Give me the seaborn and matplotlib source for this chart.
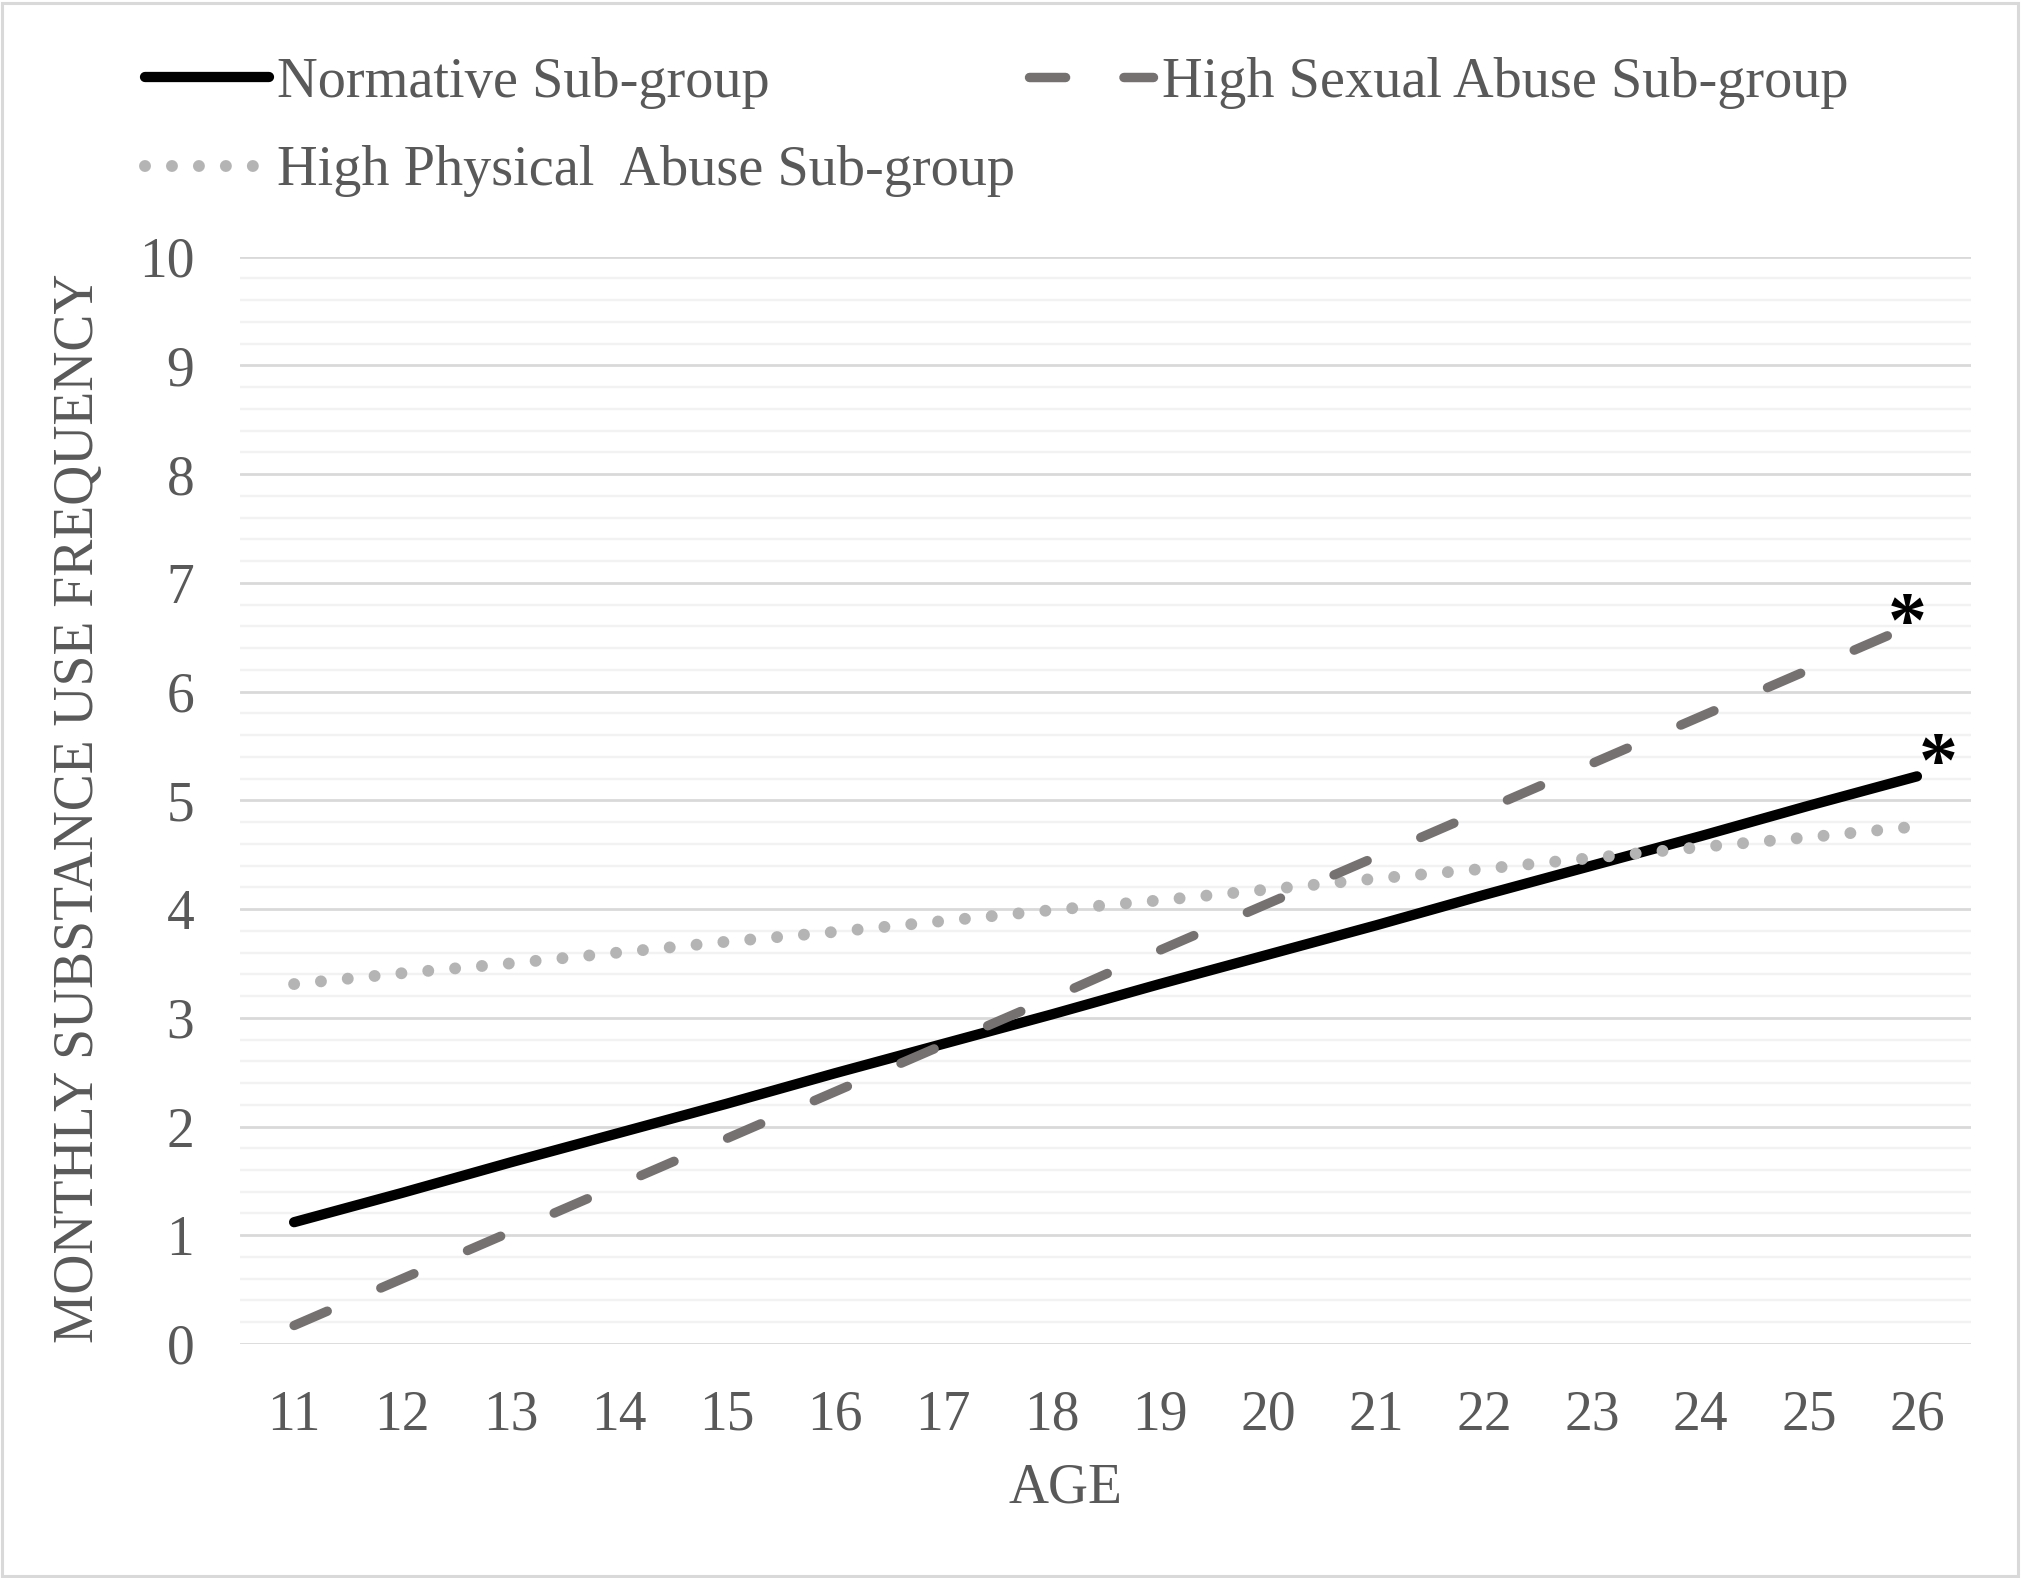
"""
Monthly substance use frequency by age for three sub-groups.
Recreates the grey-scale Excel-style line chart and saves out.png.
"""

import matplotlib.pyplot as plt
import pandas as pd
import seaborn as sns
from matplotlib.patches import Rectangle
from matplotlib.ticker import MultipleLocator

AGES = list(range(11, 27))
NORMATIVE = [1.12, 1.39, 1.67, 1.94, 2.21, 2.49, 2.76, 3.03,
             3.31, 3.58, 3.85, 4.13, 4.40, 4.67, 4.95, 5.22]
SEXUAL = [0.17, 0.60, 1.03, 1.46, 1.89, 2.32, 2.75, 3.18,
          3.62, 4.05, 4.48, 4.91, 5.34, 5.77, 6.20, 6.63]
PHYSICAL = [3.31, 3.41, 3.50, 3.60, 3.70, 3.79, 3.89, 3.99,
            4.08, 4.18, 4.28, 4.37, 4.47, 4.57, 4.66, 4.76]

LABEL_NORM = "Normative Sub-group"
LABEL_SEX = "High Sexual Abuse Sub-group"
LABEL_PHYS = "High Physical  Abuse Sub-group"

TEXT_COLOR = "#595959"
FS = 40

sns.set_theme(style="white")
plt.rcParams["font.family"] = ["Liberation Serif", "DejaVu Serif"]
plt.rcParams["lines.scale_dashes"] = False

df = pd.DataFrame({"age": AGES, "norm": NORMATIVE, "sex": SEXUAL, "phys": PHYSICAL})

fig = plt.figure(figsize=(20.22, 15.78), dpi=100)
ax = fig.add_axes([0.1187, 0.1483, 0.9748 - 0.1187, 0.8374 - 0.1483])

sns.lineplot(data=df, x="age", y="norm", ax=ax, color="black", lw=7.4,
             solid_capstyle="round", label=LABEL_NORM)
sns.lineplot(data=df, x="age", y="phys", ax=ax, color="#B4B4B4", lw=8.6,
             dashes=(0.01, 19.4), dash_capstyle="round", label=LABEL_PHYS)
sns.lineplot(data=df, x="age", y="sex", ax=ax, color="#767171", lw=6.8,
             dashes=(26, 42), dash_capstyle="round", label=LABEL_SEX)

# significance markers at the right-hand end of two lines
ax.annotate("*", (AGES[-1], SEXUAL[-1]), xytext=(-7, -16),
            textcoords="offset points", fontsize=56, fontweight="bold",
            color="black", ha="center", va="baseline")
ax.annotate("*", (AGES[-1], NORMATIVE[-1]), xytext=(15, -6),
            textcoords="offset points", fontsize=56, fontweight="bold",
            color="black", ha="center", va="baseline")

ax.set_xlim(10.5, 26.5)
ax.set_ylim(0, 10)
ax.set_xticks(AGES)
ax.yaxis.set_major_locator(MultipleLocator(1))
ax.yaxis.set_minor_locator(MultipleLocator(0.2))
ax.grid(axis="y", which="major", color="#D9D9D9", lw=2.0, zorder=0)
ax.grid(axis="y", which="minor", color="#F2F2F2", lw=1.7, zorder=0)
ax.grid(axis="x", visible=False)
ax.set_axisbelow(True)
for spine in ax.spines.values():
    spine.set_visible(False)
ax.tick_params(axis="both", which="both", length=0, labelsize=FS,
               labelcolor=TEXT_COLOR, pad=33)

ax.set_xlabel("AGE", fontsize=FS, color=TEXT_COLOR)
ax.set_ylabel("MONTHLY SUBSTANCE USE FREQUENCY", fontsize=FS, color=TEXT_COLOR)
ax.xaxis.label.set_va("center")
ax.yaxis.label.set_va("center")
ax.xaxis.set_label_coords(0.477, -0.133)
ax.yaxis.set_label_coords(-0.093, 0.493)

handles, labels = ax.get_legend_handles_labels()
ax.get_legend().remove()
fig.legend(handles, labels, loc="upper left", bbox_to_anchor=(0.0715, 0.964),
           ncol=2, frameon=False, fontsize=40.6, labelcolor=TEXT_COLOR,
           handlelength=2.2, handletextpad=0.15, columnspacing=0.25,
           labelspacing=0.65, borderpad=0, borderaxespad=0)

fig.patches.append(Rectangle((0.001, 0.001), 0.997, 0.997, transform=fig.transFigure,
                             fill=False, edgecolor="#D9D9D9", lw=2.2))

fig.savefig("out.png", dpi=100, facecolor="white")
